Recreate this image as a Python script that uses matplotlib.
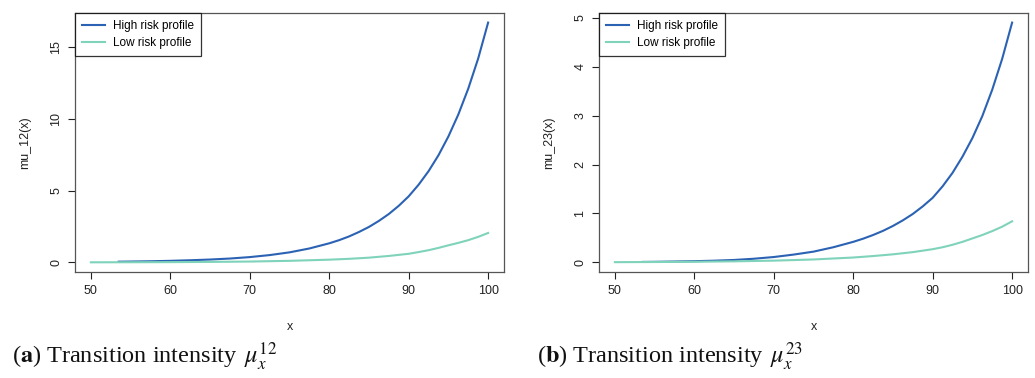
import matplotlib
matplotlib.use("Agg")
import matplotlib.pyplot as plt

# ---- data ----
age_high = [53.5, 55, 57.5, 60, 62.5, 65, 67.5, 70, 72.5, 75, 77.5, 80, 81.25, 82.5, 83.75,
            85, 86.25, 87.5, 88.75, 90, 91.25, 92.5, 93.75, 95, 96.25, 97.5, 98.75, 100]
mu12_high = [0.05, 0.06, 0.08, 0.11, 0.15, 0.20, 0.27, 0.37, 0.51, 0.70, 0.97, 1.33, 1.55, 1.81, 2.12,
             2.47, 2.89, 3.37, 3.94, 4.60, 5.41, 6.35, 7.46, 8.77, 10.3, 12.1, 14.2, 16.7]
mu23_high = [0.01, 0.012, 0.018, 0.025, 0.035, 0.05, 0.075, 0.11, 0.16, 0.22, 0.31, 0.42, 0.485, 0.56, 0.645,
             0.745, 0.86, 0.99, 1.145, 1.32, 1.555, 1.83, 2.16, 2.54, 2.99, 3.53, 4.16, 4.90]

age_low = [50, 55, 60, 65, 70, 75, 80, 82.5, 85, 87.5, 90, 91.25, 92.5, 93.75, 95, 96.25, 97.5, 98.75, 100]
mu12_low = [0.007, 0.012, 0.02, 0.035, 0.06, 0.11, 0.19, 0.25, 0.33, 0.45, 0.60, 0.72, 0.85, 1.01,
            1.19, 1.36, 1.55, 1.78, 2.05]
mu23_low = [0.005, 0.008, 0.013, 0.022, 0.036, 0.06, 0.10, 0.13, 0.165, 0.21, 0.27, 0.31, 0.36, 0.42,
            0.49, 0.56, 0.64, 0.73, 0.84]

x_ticks = [50, 60, 70, 80, 90, 100]
y_ticks_a = [0, 5, 10, 15]
y_ticks_b = [0, 1, 2, 3, 4, 5]
labels = ["High risk profile", "Low risk profile"]
colors = ["#2b62b3", "#7fd3ba"]

plt.rcParams["font.family"] = ["Liberation Sans", "DejaVu Sans"]
plt.rcParams["mathtext.fontset"] = "stix"

fig = plt.figure(figsize=(10.35, 3.78), dpi=100)
W, H = 1035, 378

def make_ax(left_px, ylabel, yhigh, ylow, yticks, caption_letter, caption_sup, cap_x):
    ax = fig.add_axes([left_px / W, (H - 272) / H, 429 / W, 259 / H])
    ax.plot(age_high, yhigh, color=colors[0], lw=1.5, label=labels[0])
    ax.plot(age_low, ylow, color=colors[1], lw=1.5, label=labels[1])
    ymax = max(yhigh)
    ax.set_xlim(48, 102)
    ax.set_ylim(-0.04 * ymax, ymax * 1.04)
    ax.set_xticks(x_ticks)
    ax.set_yticks(yticks)
    ax.tick_params(direction="out", length=5, width=0.8, labelsize=9,
                   colors="#222222", pad=4)
    for lab in ax.get_yticklabels():
        lab.set_rotation(90)
        lab.set_va("center")
    for s in ax.spines.values():
        s.set_color("#555555")
        s.set_linewidth(0.9)
    ax.set_xlabel("x", fontsize=9, labelpad=18, color="#222222")
    ax.set_ylabel(ylabel, fontsize=9, labelpad=14, color="#222222")
    leg = ax.legend(loc="upper left", fontsize=8.5, frameon=True, fancybox=False,
                    borderaxespad=0, handlelength=1.9, handletextpad=0.75,
                    borderpad=0.6, labelspacing=0.4)
    leg.get_frame().set_edgecolor("black")
    leg.get_frame().set_linewidth(0.9)
    fig.text(cap_x / W, 1 - 364 / H,
             r"(" + r"$\mathbf{" + caption_letter + r"}$" + r") Transition intensity $\,\mu_x^{" + caption_sup + r"}$",
             fontsize=17.5, family="Liberation Serif", color="#111111",
             ha="left", va="baseline")
    return ax

make_ax(75, "mu_12(x)", mu12_high, mu12_low, y_ticks_a, "a", "12", 12)
make_ax(599, "mu_23(x)", mu23_high, mu23_low, y_ticks_b, "b", "23", 537)

fig.savefig("out.png", dpi=100)
